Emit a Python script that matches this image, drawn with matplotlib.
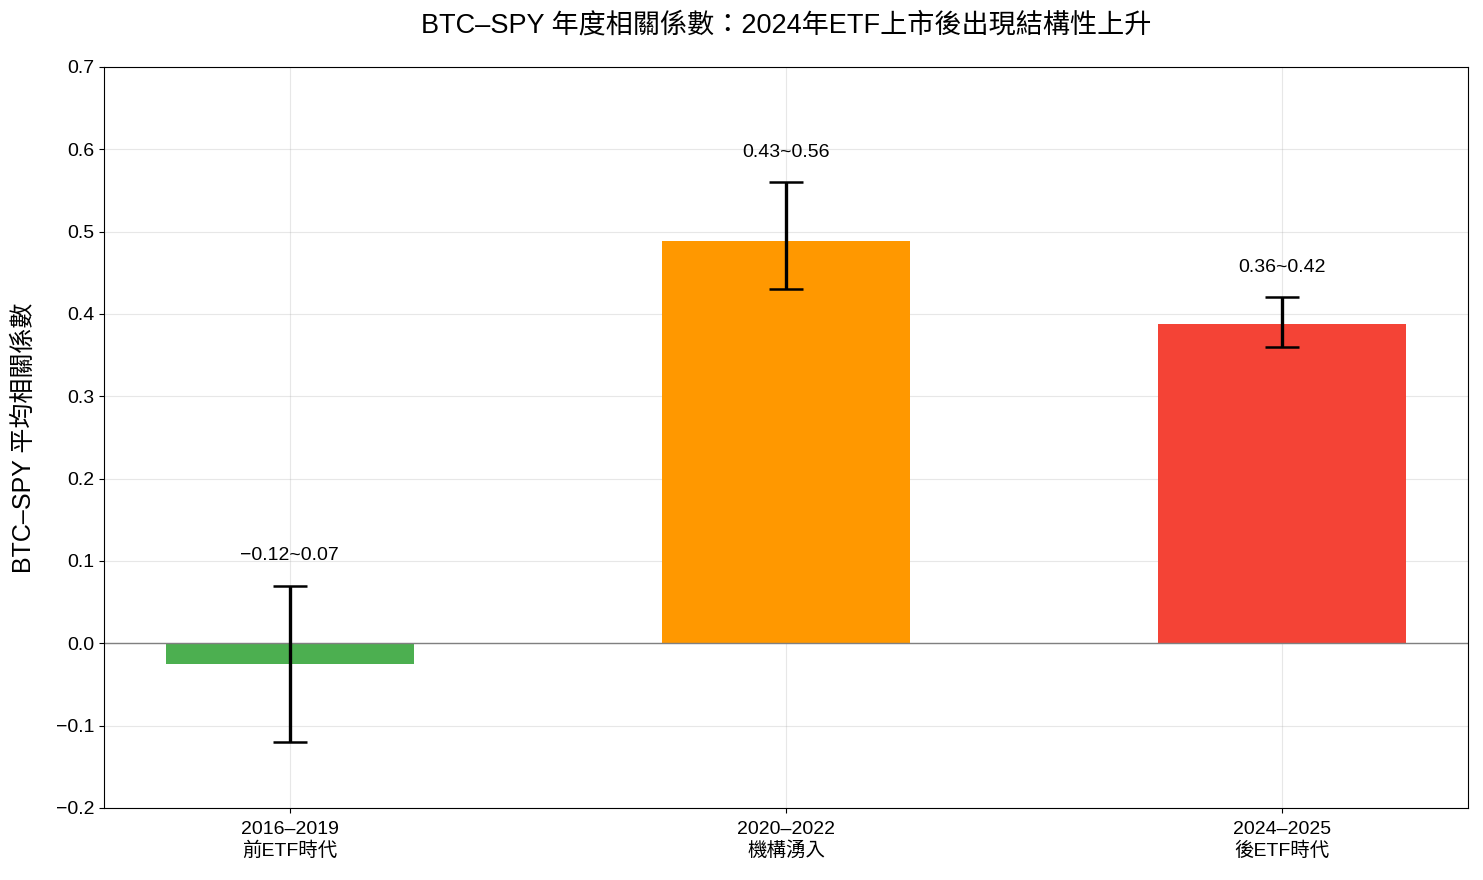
import numpy as np
import matplotlib
matplotlib.use("Agg")
import matplotlib.pyplot as plt

plt.rcParams['font.family'] = ['Liberation Sans', 'Noto Sans CJK TC', 'DejaVu Sans']
plt.rcParams['axes.unicode_minus'] = True

# ── data ──────────────────────────────────────────────────────────────────────
periods   = ["2016–2019\n前ETF時代", "2020–2022\n機構湧入", "2024–2025\n後ETF時代"]
corr_mean = [-0.025, 0.488, 0.388]
corr_low  = [-0.12, 0.43, 0.36]
corr_high = [0.07, 0.56, 0.42]
range_lbl = ["−0.12~0.07", "0.43~0.56", "0.36~0.42"]
colors    = ["#4CAF50", "#FF9800", "#F44336"]

# ── plot ──────────────────────────────────────────────────────────────────────
fig = plt.figure(figsize=(14.83, 8.8), dpi=100)
ax = fig.add_axes([0.070, 0.082, 0.920, 0.842])

x = np.arange(len(periods))
mean = np.array(corr_mean)
yerr = np.vstack([mean - np.array(corr_low), np.array(corr_high) - mean])

ax.bar(x, mean, width=0.5, color=colors, zorder=2)
ax.errorbar(x, mean, yerr=yerr, fmt="none", ecolor="black",
            elinewidth=2.4, capsize=12, capthick=1.8, zorder=3)
ax.axhline(0, color="gray", lw=1, zorder=2.5)

for xi, hi, lbl in zip(x, corr_high, range_lbl):
    ax.text(xi, hi + 0.026, lbl, ha="center", va="bottom", fontsize=14)

ax.set_xticks(x)
ax.set_xticklabels(periods, fontsize=14, linespacing=1.25)
ax.tick_params(axis="x", pad=6)
ax.set_ylim(-0.2, 0.7)
yt = np.arange(-0.2, 0.71, 0.1)
ax.set_yticks(yt)
ax.set_yticklabels([f"{v:.1f}".replace("-", "−") for v in yt], fontsize=14)
ax.set_ylabel("BTC–SPY 平均相關係數", fontsize=18)
ax.yaxis.set_label_coords(-0.050, 0.5)
ax.set_title("BTC–SPY 年度相關係數：2024年ETF上市後出現結構性上升", fontsize=19.5, pad=25)
ax.grid(True, alpha=0.3, zorder=0)
ax.set_axisbelow(True)

plt.savefig("out.png", dpi=100)
